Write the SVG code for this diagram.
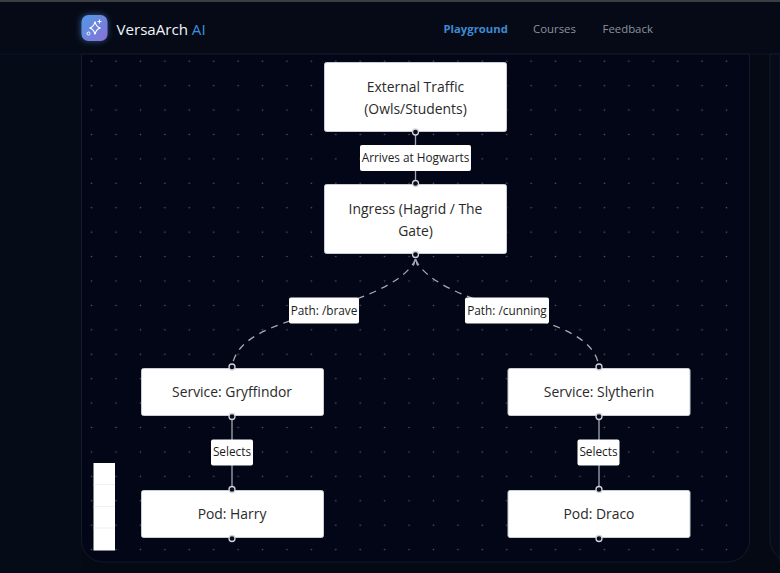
<svg xmlns="http://www.w3.org/2000/svg" width="780" height="573" viewBox="0 0 780 573">
<style>
text{font-family:"Open Sans","Noto Sans","DejaVu Sans",sans-serif;}
.node{fill:#fff;stroke:#c9ccd6;stroke-width:1}
.nt{font-size:13.9px;fill:#2a2a2a;text-anchor:middle}
.lb{fill:#fff;stroke:none}
.lt{font-size:11.8px;fill:#1c1c1c;text-anchor:middle}
.edge{fill:none;stroke:#a4a8b4;stroke-width:1.3}
.dash{stroke-dasharray:7 6}
.ph{fill:#0a0d1c;stroke:#d4d6de;stroke-width:1.3}
.nav{font-size:11.4px;fill:#8b929e;font-weight:500}
</style>
<defs>
<pattern id="dots" x="79.4" y="49" width="24.42" height="24.42" patternUnits="userSpaceOnUse">
<circle cx="12.2" cy="12.2" r="0.8" fill="#545b70"/>
</pattern>
<linearGradient id="logo" x1="0" y1="0" x2="1" y2="1">
<stop offset="0" stop-color="#4f9ae6"/><stop offset="1" stop-color="#8a6fd6"/>
</linearGradient>
<filter id="glow" x="-50%" y="-50%" width="200%" height="200%"><feGaussianBlur stdDeviation="3"/></filter>
<marker id="arrow" markerWidth="5" markerHeight="8" refX="2.5" refY="0.5" orient="0" markerUnits="userSpaceOnUse"><path d="M0.500 7L2.500 0.500L4.500 7" fill="none" stroke="#a4a8b4"/></marker>
</defs>
<rect id="background" width="780" height="573" fill="#050913"/>
<rect x="0" y="54" width="81" height="519" fill="#060b18"/>
<rect x="0" y="0" width="780" height="2" fill="#3a3d42"/>
<rect x="0" y="2" width="780" height="52" fill="#050a16"/>
<line x1="0" y1="54" x2="780" y2="54" stroke="#0e1422"/>
<path id="panel" d="M81.500 54V540a22 22 0 0 0 22 22H727.500a22 22 0 0 0 22-22V54Z" fill="#030616" stroke="#141a2a"/>
<path id="panel-next" d="M780 562H792a22 22 0 0 1-22-22V54H780Z" fill="#070b18" stroke="#141a2a"/>
<rect x="82" y="55" width="667" height="506" fill="url(#dots)"/>

<g id="header">
<rect x="81" y="15" width="26" height="26" rx="7" fill="#5f8fe6" opacity=".55" filter="url(#glow)"/>
<rect x="81.500" y="15" width="26" height="26" rx="7" fill="url(#logo)"/>
<path d="M95 21.500Q96 27 100.500 28Q96 29 95 34.500Q94 29 89.500 28Q94 27 95 21.500Z" fill="none" stroke="#fff" stroke-width="1.200"/>
<path d="M99.500 19.500V23.500M97.500 21.500H101.500" stroke="#fff" stroke-width="1.100"/>
<circle cx="88.500" cy="33.500" r="1.500" fill="none" stroke="#fff" stroke-width="1"/>
<text x="116.500" y="34.500" font-size="15.100" font-weight="500" fill="#f2f4f8">VersaArch <tspan fill="#3f8fd8">AI</tspan></text>
<text x="443.500" y="33" class="nav" style="fill:#3f8ad2;font-weight:700;font-size:11.300px">Playground</text>
<text x="533" y="33" class="nav">Courses</text>
<text x="602.500" y="33" class="nav">Feedback</text>
</g>

<g id="connectors">
<path class="edge" d="M415.500 132V184"/>
<path class="edge dash" d="M415.500 259C407 280 370 296 324 310C280 324 236 335 232 367" marker-start="url(#arrow)"/>
<path class="edge dash" d="M415.500 259C424 280 461 296 507 310C551 324 595 335 599 367" marker-start="url(#arrow)"/>
<path class="edge" d="M232 416V490"/>
<path class="edge" d="M599 416V490"/>
</g>

<g id="node-external">
<rect class="node" x="324.500" y="62.500" width="182" height="69" rx="2"/>
<text class="nt" x="415.500" y="91.500">External Traffic</text>
<text class="nt" x="415.500" y="113.500">(Owls/Students)</text>
<circle class="ph" cx="415.500" cy="132" r="3"/>
</g>
<g id="node-ingress">
<rect class="node" x="324.500" y="184.500" width="182" height="69" rx="2"/>
<text class="nt" x="415.500" y="213.500">Ingress (Hagrid / The</text>
<text class="nt" x="415.500" y="235.500">Gate)</text>
<circle class="ph" cx="415.500" cy="183.500" r="3"/>
<circle class="ph" cx="415.500" cy="254.500" r="3"/>
</g>
<g id="node-gryffindor">
<rect class="node" x="141.500" y="368.500" width="182" height="47" rx="2"/>
<text class="nt" x="232" y="397">Service: Gryffindor</text>
<circle class="ph" cx="232" cy="367" r="3"/>
<circle class="ph" cx="232" cy="416.500" r="3"/>
</g>
<g id="node-slytherin">
<rect class="node" x="508" y="368.500" width="182" height="47" rx="2"/>
<text class="nt" x="599" y="397">Service: Slytherin</text>
<circle class="ph" cx="599" cy="367" r="3"/>
<circle class="ph" cx="599" cy="416.500" r="3"/>
</g>
<g id="node-harry">
<rect class="node" x="141.500" y="490.500" width="182" height="47" rx="2"/>
<text class="nt" x="232" y="519">Pod: Harry</text>
<circle class="ph" cx="232" cy="489.500" r="3"/>
<circle class="ph" cx="232" cy="538.500" r="3"/>
</g>
<g id="node-draco">
<rect class="node" x="508" y="490.500" width="182" height="47" rx="2"/>
<text class="nt" x="599" y="519">Pod: Draco</text>
<circle class="ph" cx="599" cy="489.500" r="3"/>
<circle class="ph" cx="599" cy="538.500" r="3"/>
</g>

<g id="edge-labels">
<rect class="lb" x="360" y="145" width="111" height="26" rx="2"/>
<text class="lt" x="415.500" y="162">Arrives at Hogwarts</text>
<rect class="lb" x="289" y="297.500" width="70" height="26" rx="2"/>
<text class="lt" x="324" y="314.500">Path: /brave</text>
<rect class="lb" x="465" y="297.500" width="84" height="26" rx="2"/>
<text class="lt" x="507" y="314.500">Path: /cunning</text>
<rect class="lb" x="211" y="439.500" width="42" height="26" rx="2"/>
<text class="lt" x="232" y="456">Selects</text>
<rect class="lb" x="577.500" y="439.500" width="42" height="26" rx="2"/>
<text class="lt" x="598.500" y="456">Selects</text>
</g>

<g id="toolbar">
<rect x="93.500" y="463" width="21.500" height="87.500" fill="#fff"/>
<path d="M93.500 484.500H115M93.500 506.500H115M93.500 528H115" stroke="#eeeef2" stroke-width="0.800"/>
</g>
</svg>
